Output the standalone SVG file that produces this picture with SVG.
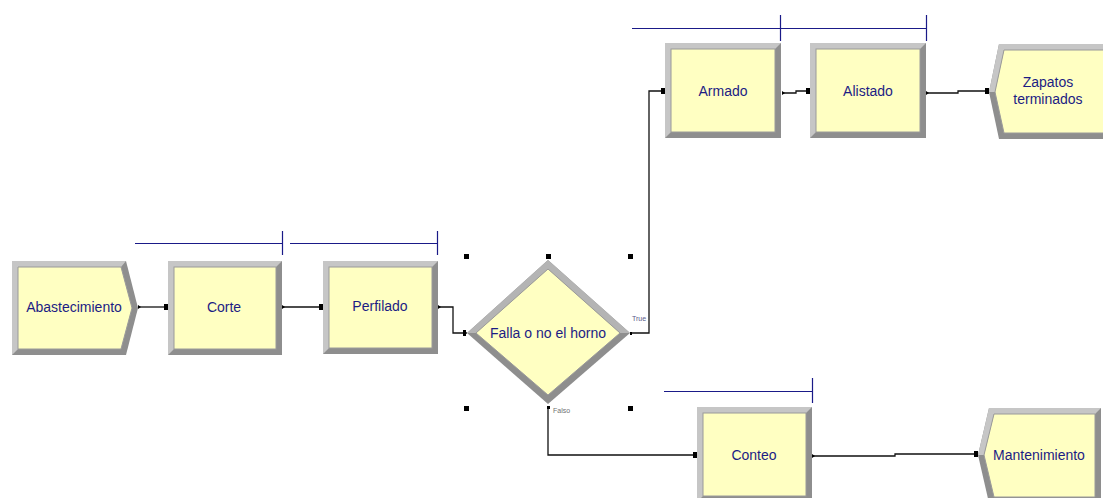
<svg xmlns="http://www.w3.org/2000/svg" width="1103" height="498" viewBox="0 0 1103 498">
<style>
.dark{fill:#8e8e8e}
.light{fill:#c6c6c6}
.inner{fill:#ffffc2;stroke:#9a9a9a;stroke-width:1}
.lbl{font-family:"Liberation Sans",Arial,sans-serif;font-size:14px;fill:#1c1c84;text-anchor:middle}
.small{font-family:"Liberation Sans",Arial,sans-serif;font-size:7px;fill:#5a5a8a}
.conn{fill:none;stroke:#111;stroke-width:1.3}
.res{fill:none;stroke:#1a1a88;stroke-width:1.2}
.pt{fill:#000}
</style>
<rect width="1103" height="498" fill="#ffffff"/>

<g id="resources">
<path class="res" d="M135 243.5H282.5M282.5 231V255M290 243.5H437.5M437.5 231V255"/>
<path class="res" d="M632 28.5H780.5M780.5 15V41M780.5 28.5H926.5M926.5 15V41"/>
<path class="res" d="M664 391.5H812.5M812.5 378V403"/>
</g>

<g id="connectors">
<path class="conn" d="M138 307H168"/>
<path class="conn" d="M282 307H323"/>
<path class="conn" d="M438 307H453V333H467"/>
<path class="conn" d="M630 333H649V91H665"/>
<path class="conn" d="M782 93H796V91H810"/>
<path class="conn" d="M926 93H958V91H989"/>
<path class="conn" d="M548 408V455H697"/>
<path class="conn" d="M812 456H895V454H978"/>
<rect class="pt" x="164" y="304" width="4" height="6"/>
<rect class="pt" x="319" y="304" width="4" height="6"/>
<rect class="pt" x="463" y="330" width="3" height="6"/>
<rect class="pt" x="661" y="88" width="4" height="6"/>
<rect class="pt" x="806" y="88" width="4" height="6"/>
<rect class="pt" x="985" y="88" width="4" height="6"/>
<rect class="pt" x="693" y="452" width="4" height="6"/>
<rect class="pt" x="974" y="451" width="4" height="6"/>
<path class="pt" d="M138 305L141 307L138 309Z"/>
<path class="pt" d="M282 305L285 307L282 309Z"/>
<path class="pt" d="M438 305L441 307L438 309Z"/>
<path class="pt" d="M782 91L785 93L782 95Z"/>
<path class="pt" d="M926 91L929 93L926 95Z"/>
<path class="pt" d="M812 454L815 456L812 458Z"/>
<rect class="pt" x="630" y="332" width="2" height="3"/>
<rect class="pt" x="547" y="406" width="3" height="3"/>
</g>

<g id="Abastecimiento">
<polygon class="dark" points="12,261 126,261 138,308 126,355 12,355"/>
<polygon class="light" points="12,261 126,261 121,267 18,267 18,349 12,355"/>
<polygon class="inner" points="18,267 121,267 132,308 121,349 18,349"/>
<text class="lbl" x="74" y="312">Abastecimiento</text>
</g>

<g id="Corte">
<rect class="dark" x="168" y="261" width="114" height="94"/>
<polygon class="light" points="168,261 282,261 276,267 174,267 174,349 168,355"/>
<rect class="inner" x="174" y="267" width="102" height="82"/>
<text class="lbl" x="224" y="312">Corte</text>
</g>

<g id="Perfilado">
<rect class="dark" x="323" y="261" width="115" height="93"/>
<polygon class="light" points="323,261 438,261 432,267 329,267 329,348 323,354"/>
<rect class="inner" x="329" y="267" width="103" height="81"/>
<text class="lbl" x="380" y="311">Perfilado</text>
</g>

<g id="Decide">
<polygon class="dark" points="548,260 630,333 548,404 467,333"/>
<polygon fill="#b4b4b4" points="548,260 630,333 620,333 548,269 476,333 467,333"/>
<polygon class="inner" points="548,269 620,333 548,395 476,333"/>
<text class="lbl" x="548" y="338">Falla o no el horno</text>
<text class="small" x="632" y="321">True</text>
<text class="small" x="553" y="413" style="fill:#707070">Falso</text>
<rect class="pt" x="464" y="254" width="5" height="5"/>
<rect class="pt" x="546" y="254" width="5" height="5"/>
<rect class="pt" x="628" y="254" width="5" height="5"/>
<rect class="pt" x="464" y="406" width="5" height="5"/>
<rect class="pt" x="628" y="406" width="5" height="5"/>
</g>

<g id="Armado">
<rect class="dark" x="665" y="43" width="116" height="95"/>
<polygon class="light" points="665,43 781,43 775,49 671,49 671,132 665,138"/>
<rect class="inner" x="671" y="49" width="104" height="83"/>
<text class="lbl" x="723" y="96">Armado</text>
</g>

<g id="Alistado">
<rect class="dark" x="810" y="43" width="116" height="95"/>
<polygon class="light" points="810,43 926,43 920,49 816,49 816,132 810,138"/>
<rect class="inner" x="816" y="49" width="104" height="83"/>
<text class="lbl" x="868" y="96">Alistado</text>
</g>

<g id="Zapatos">
<polygon class="dark" points="989,92 999,44 1111,44 1111,139 999,139"/>
<polygon class="light" points="989,92 999,44 1111,44 1111,50 1004,50 995,92"/>
<polygon class="inner" points="995,92 1004,50 1105,50 1105,133 1004,133"/>
<text class="lbl" x="1048" y="87">Zapatos</text>
<text class="lbl" x="1048" y="104">terminados</text>
</g>

<g id="Conteo">
<rect class="dark" x="697" y="407" width="115" height="95"/>
<polygon class="light" points="697,407 812,407 806,413 703,413 703,496 697,502"/>
<rect class="inner" x="703" y="413" width="103" height="83"/>
<text class="lbl" x="754" y="460">Conteo</text>
</g>

<g id="Mantenimiento">
<polygon class="dark" points="978,455 989,408 1101,408 1101,503 989,503"/>
<polygon class="light" points="978,455 989,408 1101,408 1095,414 994,414 984,455"/>
<polygon class="inner" points="984,455 994,414 1095,414 1095,497 994,497"/>
<text class="lbl" x="1039" y="460">Mantenimiento</text>
</g>
</svg>
